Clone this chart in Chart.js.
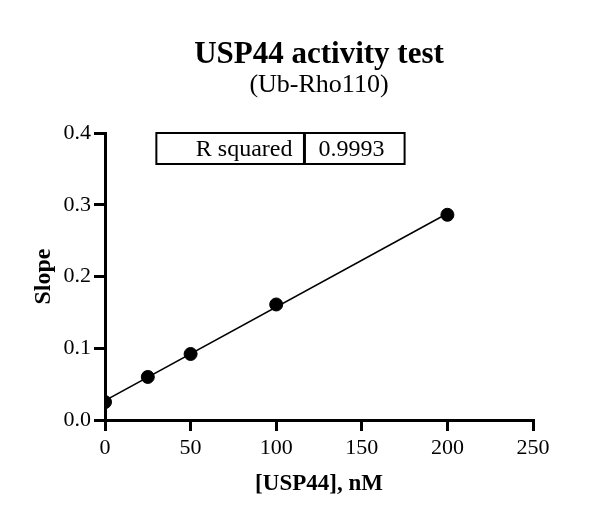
<!DOCTYPE html>
<html lang="en">
<head>
    <meta charset="UTF-8">
    <title>USP44 activity test</title>
    <script src="https://cdn.jsdelivr.net/npm/chart.js@4.4.0/dist/chart.umd.min.js"></script>
    <style>
        body { margin: 0; padding: 0; background: #fff; }
        #wrap { width: 600px; height: 512px; }
    </style>
</head>
<body>
<div id="wrap"><canvas id="myChart" width="600" height="512"></canvas></div>
<script>
    // data
    const conc = [0, 25, 50, 100, 200];          // [USP44], nM
    const slope = [0.025, 0.060, 0.092, 0.161, 0.286];
    const xTicks = [0, 50, 100, 150, 200, 250];
    const yTicks = [0.0, 0.1, 0.2, 0.3, 0.4];
    const rSquaredText = '0.9993';

    // straight-line fit through the points
    function linFit(xs, ys) {
        const n = xs.length;
        const mx = xs.reduce((a, b) => a + b, 0) / n;
        const my = ys.reduce((a, b) => a + b, 0) / n;
        let sxy = 0, sxx = 0;
        for (let i = 0; i < n; i++) {
            sxy += (xs[i] - mx) * (ys[i] - my);
            sxx += (xs[i] - mx) * (xs[i] - mx);
        }
        const b = sxy / sxx;
        return { b: b, a: my - b * mx };
    }
    const fit = linFit(conc, slope);
    const fitX = [conc[0], conc[conc.length - 1]];
    const fitLine = fitX.map(x => ({ x: x, y: fit.a + fit.b * x }));

    const serif = '"Liberation Serif", "DejaVu Serif", serif';

    const extras = {
        id: 'extras',
        afterDraw(chart) {
            const ctx = chart.ctx;
            const area = chart.chartArea;
            const xs = chart.scales.x;
            const cx = (area.left + area.right) / 2;
            ctx.save();
            ctx.fillStyle = '#000';
            ctx.textAlign = 'center';
            ctx.textBaseline = 'alphabetic';
            ctx.font = 'bold 31px ' + serif;
            ctx.fillText('USP44 activity test', cx, 63);
            ctx.font = '26px ' + serif;
            ctx.fillText('(Ub-Rho110)', cx, 92);

            // R squared table
            const l = xs.getPixelForValue(30), r = xs.getPixelForValue(175);
            const mid = xs.getPixelForValue(116.5);
            const top = area.top, h = 31;
            ctx.strokeStyle = '#000';
            ctx.lineWidth = 2;
            ctx.strokeRect(l, top, r - l, h);
            ctx.lineWidth = 3;
            ctx.beginPath();
            ctx.moveTo(mid, top);
            ctx.lineTo(mid, top + h);
            ctx.stroke();
            ctx.font = '24px ' + serif;
            ctx.textBaseline = 'middle';
            ctx.textAlign = 'right';
            ctx.fillText('R squared', mid - 12, top + h / 2 + 1);
            ctx.textAlign = 'left';
            ctx.fillText(rSquaredText, mid + 14, top + h / 2 + 1);
            ctx.restore();
        }
    };

    new Chart(document.getElementById('myChart'), {
        type: 'scatter',
        data: {
            datasets: [{
                label: 'fit',
                data: fitLine,
                showLine: true,
                borderColor: '#000',
                borderWidth: 1.5,
                pointRadius: 0
            }, {
                label: 'Slope',
                data: conc.map((x, i) => ({ x: x, y: slope[i] })),
                backgroundColor: '#000',
                borderColor: '#000',
                pointRadius: 6.5,
                pointHoverRadius: 6.5
            }]
        },
        options: {
            responsive: false,
            animation: false,
            layout: { padding: { left: 25, top: 133, right: 67, bottom: 10 } },
            plugins: { legend: { display: false }, tooltip: { enabled: false } },
            scales: {
                x: {
                    type: 'linear',
                    min: 0, max: 250,
                    afterBuildTicks: s => { s.ticks = xTicks.map(v => ({ value: v })); },
                    ticks: { color: '#000', font: { family: serif, size: 22 }, padding: 4 },
                    grid: { drawOnChartArea: false, drawTicks: true, tickLength: 11, color: '#000', lineWidth: 3 },
                    border: { color: '#000', width: 3 },
                    title: { display: true, text: '[USP44], nM', color: '#000',
                             font: { family: serif, size: 23, weight: 'bold' }, padding: { top: 5 } }
                },
                y: {
                    type: 'linear',
                    min: 0, max: 0.4,
                    afterBuildTicks: s => { s.ticks = yTicks.map(v => ({ value: v })); },
                    afterFit: s => { s.width = 80; },
                    ticks: { color: '#000', font: { family: serif, size: 22 }, padding: 3,
                             callback: v => v.toFixed(1) },
                    grid: { drawOnChartArea: false, drawTicks: true, tickLength: 11, color: '#000', lineWidth: 3 },
                    border: { color: '#000', width: 3 },
                    title: { display: true, text: 'Slope', color: '#000',
                             font: { family: serif, size: 24, weight: 'bold' }, padding: { bottom: 8 } }
                }
            }
        },
        plugins: [extras]
    });
</script>
</body>
</html>
